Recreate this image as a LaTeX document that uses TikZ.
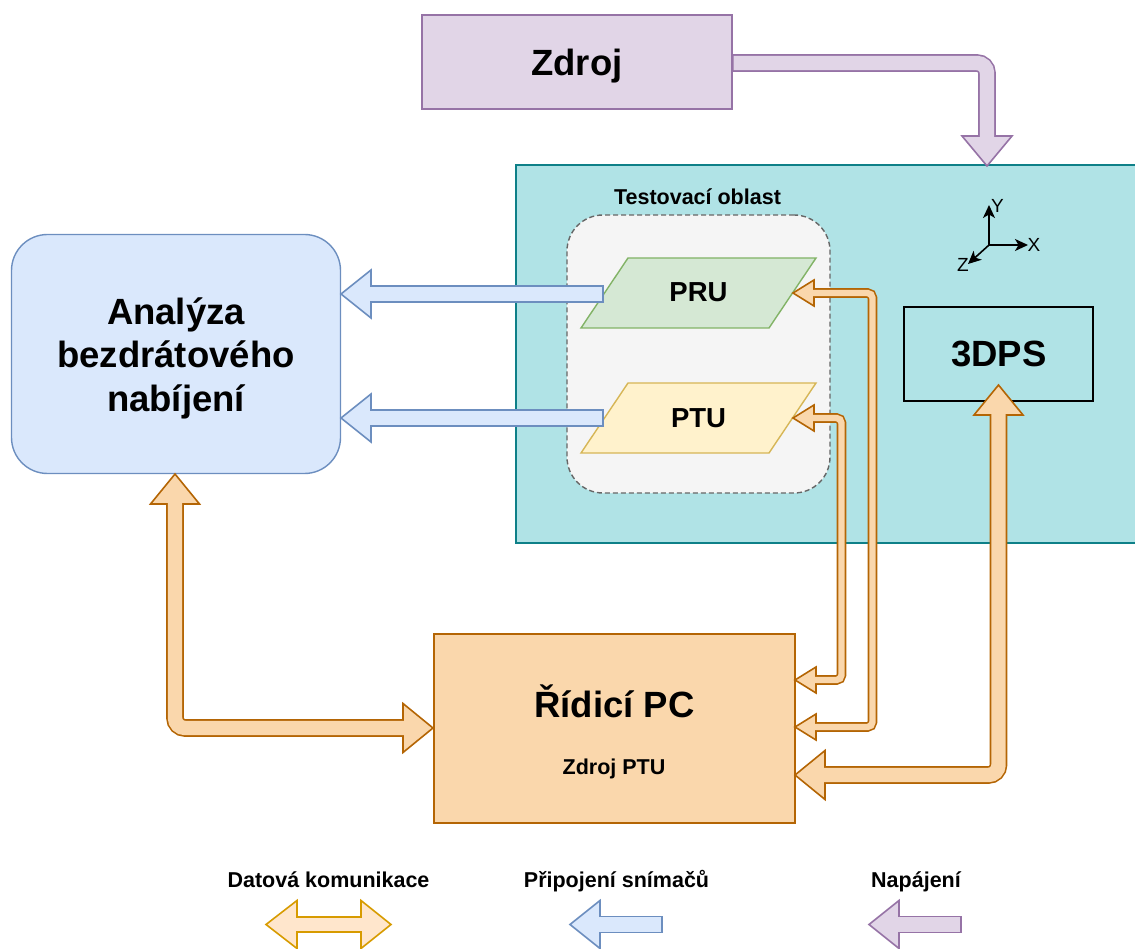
\documentclass[tikz,border=0pt]{standalone}
\usepackage{fontspec}
\setmainfont{Liberation Sans}
\usetikzlibrary{calc,arrows.meta}

\definecolor{purpleF}{HTML}{E1D5E7}\definecolor{purpleS}{HTML}{9673A6}
\definecolor{tealF}{HTML}{B0E3E6}\definecolor{tealS}{HTML}{0E8088}
\definecolor{grayF}{HTML}{F5F5F5}\definecolor{grayS}{HTML}{666666}
\definecolor{greenF}{HTML}{D5E8D4}\definecolor{greenS}{HTML}{82B366}
\definecolor{yellowF}{HTML}{FFF2CC}\definecolor{yellowS}{HTML}{D6B656}
\definecolor{blueF}{HTML}{DAE8FC}\definecolor{blueS}{HTML}{6C8EBF}
\definecolor{orangeF}{HTML}{FAD7AC}\definecolor{orangeS}{HTML}{B46504}
\definecolor{lorangeF}{HTML}{FFE6CC}\definecolor{lorangeS}{HTML}{D79B00}

\tikzset{
  titlefont/.style={font=\bfseries\fontsize{36.5}{44}\selectfont},
  labelfont/.style={font=\bfseries\fontsize{21.5}{26}\selectfont},
  shapefont/.style={font=\bfseries\fontsize{27.5}{33}\selectfont},
  axisfont/.style={font=\fontsize{19}{23}\selectfont},
  box/.style={draw, line width=1.4pt},
  headtip/.style 2 args={draw=#1, fill=#2, line width=1.6pt, line join=miter},
  axis/.style={line width=1.6pt, -{Stealth[length=13pt,width=12pt,inset=3.5pt]}},
}

\begin{document}
\begin{tikzpicture}[x=1pt,y=-1pt, every node/.style={inner sep=0pt, outer sep=0pt}]
\useasboundingbox (0,0) rectangle (1135,949);
\clip (0,0) rectangle (1135,949);

% test stand area
\node[box, draw=tealS, fill=tealF, minimum width=624pt, minimum height=378pt] (area) at (828,354) {};
\node[labelfont, anchor=base] (zoneT) at (697.5,205) {Testovací oblast};
\node[draw=grayS, fill=grayF, line width=1.4pt, dash pattern=on 5pt off 3pt,
      rounded corners=36pt, minimum width=263pt, minimum height=278pt] (zone) at (698.5,354) {};

% receiver and transmitter units
\draw[greenS, fill=greenF, line width=1.4pt] (581,328) -- (628,258) -- (816,258) -- (769,328) -- cycle;
\node[shapefont, anchor=base] (pru) at (698.5,302) {PRU};
\draw[yellowS, fill=yellowF, line width=1.4pt] (581,453) -- (628,383) -- (816,383) -- (769,453) -- cycle;
\node[shapefont, anchor=base] (ptu) at (698.5,427) {PTU};

% positioning system
\node[box, draw=black, minimum width=189pt, minimum height=94pt] (tdps) at (998.5,354) {};
\node[titlefont, anchor=base] (tdpsT) at (999,367) {3DPS};

% coordinate axes
\coordinate (o) at (989,245);
\coordinate (ay) at (989,205);
\coordinate (ax) at (1028,245);
\coordinate (az) at (968,264);
\draw[axis] (o) -- (ay);
\draw[axis] (o) -- (ax);
\draw[axis] (o) -- (az);
\node[axisfont, anchor=base] (yl) at (997.5,213) {Y};
\node[axisfont, anchor=base] (xl) at (1034,252) {X};
\node[axisfont, anchor=base] (zl) at (963,272) {Z};

% power source
\node[box, draw=purpleS, fill=purpleF, minimum width=310pt, minimum height=94pt] (zdroj) at (577,62) {};
\node[titlefont, anchor=base] (zdrojT) at (577,75.5) {Zdroj};

% analysis block
\node[box, draw=blueS, fill=blueF, rounded corners=36pt, minimum width=329pt, minimum height=239pt] (ana) at (176,354) {};
\node[titlefont, anchor=base] (ana1) at (176,325) {Analýza};
\node[titlefont, anchor=base] (ana2) at (176,368) {bezdrátového};
\node[titlefont, anchor=base] (ana3) at (176,411) {nabíjení};

% control PC
\node[box, draw=orangeS, fill=orangeF, minimum width=361pt, minimum height=189pt] (pc) at (614.5,728.5) {};
\node[titlefont, anchor=base] (pcT) at (614.5,717) {Řídicí PC};
\node[labelfont, anchor=base] (pcS) at (614,774) {Zdroj PTU};

% connector end points
\coordinate (zdrojE) at (732,63);
\coordinate (areaN) at (987,166);
\coordinate (pruW) at (604,294);
\coordinate (pruE) at (793,293);
\coordinate (ptuW) at (604,418);
\coordinate (ptuE) at (793,418);
\coordinate (anaE1) at (341,294);
\coordinate (anaE2) at (341,418);
\coordinate (anaS) at (175,474);
\coordinate (pcW) at (433,728);
\coordinate (pcE1) at (795,680);
\coordinate (pcE2) at (795,727);
\coordinate (pcE3) at (795,775);
\coordinate (tdpsS) at (998.5,385);

% power: source -> test area
\draw[purpleS, line width=17.6pt, rounded corners=10pt] (zdrojE) -- (987,63) -- ($(areaN)+(0,-30)$);
\filldraw[headtip={purpleS}{purpleF}] (areaN) -- ($(areaN)+(-25,-30)$) -- ($(areaN)+(25,-30)$) -- cycle;
\draw[purpleF, line width=14.4pt, rounded corners=10pt] ($(zdrojE)+(1.6,0)$) -- (987,63) -- ($(areaN)+(0,-27)$);

% sensor links: PRU, PTU -> analysis
\draw[blueS, line width=17.6pt] (pruW) -- ($(anaE1)+(30,0)$);
\filldraw[headtip={blueS}{blueF}] (anaE1) -- ($(anaE1)+(30,-24)$) -- ($(anaE1)+(30,24)$) -- cycle;
\draw[blueF, line width=14.4pt] ($(pruW)+(-1.6,0)$) -- ($(anaE1)+(27,0)$);

\draw[blueS, line width=17.6pt] (ptuW) -- ($(anaE2)+(30,0)$);
\filldraw[headtip={blueS}{blueF}] (anaE2) -- ($(anaE2)+(30,-24)$) -- ($(anaE2)+(30,24)$) -- cycle;
\draw[blueF, line width=14.4pt] ($(ptuW)+(-1.6,0)$) -- ($(anaE2)+(27,0)$);

% data: analysis <-> PC
\draw[orangeS, line width=17.6pt, rounded corners=10pt] ($(anaS)+(0,30)$) -- (175,728) -- ($(pcW)+(-30,0)$);
\filldraw[headtip={orangeS}{orangeF}] (anaS) -- ($(anaS)+(-24.5,30)$) -- ($(anaS)+(24.5,30)$) -- cycle;
\filldraw[headtip={orangeS}{orangeF}] (pcW) -- ($(pcW)+(-30,-24.5)$) -- ($(pcW)+(-30,24.5)$) -- cycle;
\draw[orangeF, line width=14.4pt, rounded corners=10pt] ($(anaS)+(0,27)$) -- (175,728) -- ($(pcW)+(-27,0)$);

% data: PRU <-> PC
\draw[orangeS, line width=9.6pt, rounded corners=5pt] ($(pruE)+(21,0)$) -- (872.5,293) -- (872.5,727) -- ($(pcE2)+(21,0)$);
\filldraw[headtip={orangeS}{orangeF}] (pruE) -- ($(pruE)+(21,-13)$) -- ($(pruE)+(21,13)$) -- cycle;
\filldraw[headtip={orangeS}{orangeF}] (pcE2) -- ($(pcE2)+(21,-13)$) -- ($(pcE2)+(21,13)$) -- cycle;
\draw[orangeF, line width=6.4pt, rounded corners=5pt] ($(pruE)+(18,0)$) -- (872.5,293) -- (872.5,727) -- ($(pcE2)+(18,0)$);

% data: PTU <-> PC
\draw[orangeS, line width=9.6pt, rounded corners=5pt] ($(ptuE)+(21,0)$) -- (841.5,418) -- (841.5,680) -- ($(pcE1)+(21,0)$);
\filldraw[headtip={orangeS}{orangeF}] (ptuE) -- ($(ptuE)+(21,-13)$) -- ($(ptuE)+(21,13)$) -- cycle;
\filldraw[headtip={orangeS}{orangeF}] (pcE1) -- ($(pcE1)+(21,-13)$) -- ($(pcE1)+(21,13)$) -- cycle;
\draw[orangeF, line width=6.4pt, rounded corners=5pt] ($(ptuE)+(18,0)$) -- (841.5,418) -- (841.5,680) -- ($(pcE1)+(18,0)$);

% data: 3DPS <-> PC
\draw[orangeS, line width=17.6pt, rounded corners=10pt] ($(tdpsS)+(0,30)$) -- (998.5,775) -- ($(pcE3)+(30,0)$);
\filldraw[headtip={orangeS}{orangeF}] (tdpsS) -- ($(tdpsS)+(-24.5,30)$) -- ($(tdpsS)+(24.5,30)$) -- cycle;
\filldraw[headtip={orangeS}{orangeF}] (pcE3) -- ($(pcE3)+(30,-24.5)$) -- ($(pcE3)+(30,24.5)$) -- cycle;
\draw[orangeF, line width=14.4pt, rounded corners=10pt] ($(tdpsS)+(0,27)$) -- (998.5,775) -- ($(pcE3)+(27,0)$);

% legend
\node[labelfont, anchor=base] (legD) at (328.5,887) {Datová komunikace};
\node[labelfont, anchor=base] (legB) at (616.5,887) {Připojení snímačů};
\node[labelfont, anchor=base] (legP) at (916,887) {Napájení};

\coordinate (ldL) at (266,924.5);
\coordinate (ldR) at (391,924.5);
\coordinate (lbTip) at (570,924.5);
\coordinate (lbTail) at (663,924.5);
\coordinate (lpTip) at (869,924.5);
\coordinate (lpTail) at (962,924.5);

\draw[lorangeS, line width=16.6pt] ($(ldL)+(30,0)$) -- ($(ldR)+(-30,0)$);
\filldraw[headtip={lorangeS}{lorangeF}] (ldL) -- ($(ldL)+(31,-24)$) -- ($(ldL)+(31,24)$) -- cycle;
\filldraw[headtip={lorangeS}{lorangeF}] (ldR) -- ($(ldR)+(-30,-24)$) -- ($(ldR)+(-30,24)$) -- cycle;
\draw[lorangeF, line width=13.4pt] ($(ldL)+(28,0)$) -- ($(ldR)+(-27,0)$);

\draw[blueS, line width=17.6pt] (lbTail) -- ($(lbTip)+(30,0)$);
\filldraw[headtip={blueS}{blueF}] (lbTip) -- ($(lbTip)+(30,-24)$) -- ($(lbTip)+(30,24)$) -- cycle;
\draw[blueF, line width=14.4pt] ($(lbTail)+(-1.6,0)$) -- ($(lbTip)+(27,0)$);

\draw[purpleS, line width=17.6pt] (lpTail) -- ($(lpTip)+(30,0)$);
\filldraw[headtip={purpleS}{purpleF}] (lpTip) -- ($(lpTip)+(30,-24)$) -- ($(lpTip)+(30,24)$) -- cycle;
\draw[purpleF, line width=14.4pt] ($(lpTail)+(-1.6,0)$) -- ($(lpTip)+(27,0)$);
\end{tikzpicture}
\end{document}
